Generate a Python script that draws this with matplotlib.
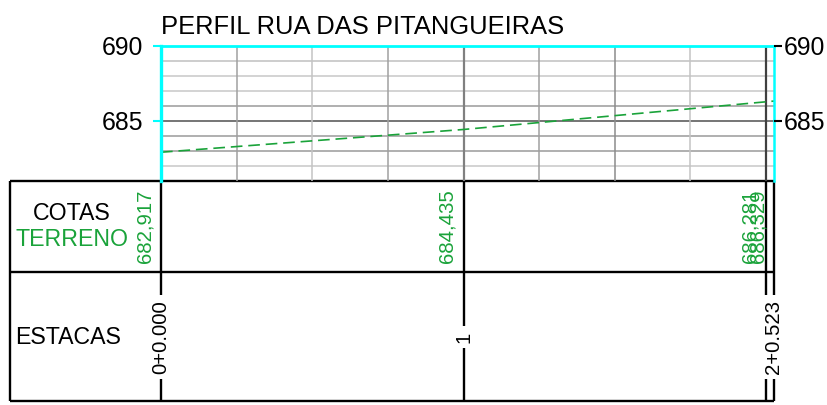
import matplotlib
matplotlib.use("Agg")
import matplotlib.pyplot as plt

plt.rcParams['font.family'] = ['Liberation Sans', 'DejaVu Sans']

# ---------------- data ----------------
title = "PERFIL RUA DAS PITANGUEIRAS"
stations_m = [0.0, 20.0, 40.0, 40.523]
terrain_elev = [682.917, 684.435, 686.281, 686.329]
elev_labels = ["682,917", "684,435", "686,281", "686,329"]
station_label_pos = [0.0, 20.0, 40.523]
station_labels = ["0+0.000", "1", "2+0.523"]
y_ticks = [685, 690]
y_min, y_max = 681, 690
grid_y = [682, 683, 684, 685, 686, 687, 688, 689]
grid_x = [5, 10, 15, 20, 25, 30, 35, 40]
row_titles = ["COTAS", "TERRENO", "ESTACAS"]

# ---------------- styles ----------------
GREEN = '#1aa33a'
CYAN = '#00ffff'
grid_y_colors = {682: '#c8c8c8', 683: '#9a9a9a', 684: '#9a9a9a', 685: '#505050',
                 686: '#9a9a9a', 687: '#c8c8c8', 688: '#c8c8c8', 689: '#c0c0c0'}
grid_x_colors = {5: '#a0a0a0', 10: '#c4c4c4', 15: '#a0a0a0', 20: '#808080',
                 25: '#a0a0a0', 30: '#8c8c8c', 35: '#c4c4c4', 40: '#404040'}

W, H = 827, 405
fig = plt.figure(figsize=(W / 100, H / 100), dpi=100)
fig.patch.set_facecolor('white')

PX0, PX1 = 161, 774
PY_TOP, PY_BOT = 46, 181
k = (PX1 - PX0) / stations_m[-1]


def px2x(px):
    return (px - PX0) / k


# table axes (whole figure, x in metres, y in pixels)
ax_t = fig.add_axes([0, 0, 1, 1])
ax_t.set_xlim(px2x(0), px2x(W))
ax_t.set_ylim(H, 0)
ax_t.axis('off')

# profile axes
ax = fig.add_axes([PX0 / W, 1 - PY_BOT / H, (PX1 - PX0) / W, (PY_BOT - PY_TOP) / H])
ax.set_xlim(0, stations_m[-1])
ax.set_ylim(y_min, y_max)
ax.patch.set_visible(False)
for s in ax.spines.values():
    s.set_visible(False)
ax.set_xticks([])
ax.set_yticks(y_ticks)
ax.tick_params(axis='y', left=True, length=5.8, width=1.5, color=CYAN, pad=7,
               labelsize=17.8)

ax2 = ax.twinx()
ax2.set_ylim(y_min, y_max)
ax2.patch.set_visible(False)
for s in ax2.spines.values():
    s.set_visible(False)
ax2.set_yticks(y_ticks)
ax2.tick_params(axis='y', left=False, right=True, labelleft=False, labelright=True,
                length=5.8, width=1.5, color='black', pad=1.5, labelsize=17.8)

for y in grid_y:
    ax.axhline(y, color=grid_y_colors[y], lw=1.1, zorder=1)
for x in grid_x:
    ax.axvline(x, color=grid_x_colors[x], lw=1.6 if x in (20, 40) else 1.1, zorder=1)

ax.axvline(0, color=CYAN, lw=2.4, zorder=4, clip_on=False)
ax.axvline(stations_m[-1], color=CYAN, lw=1.8, zorder=4, clip_on=False)
ax.axhline(y_max, color=CYAN, lw=2.0, zorder=4, clip_on=False)

ax.plot(stations_m, terrain_elev, color=GREEN, lw=1.2, dashes=(7, 3.5), zorder=3)

# ---------------- table ----------------
x_left = px2x(10)
ax_t.hlines([181, 272, 401], xmin=x_left, xmax=stations_m[-1], color='black', lw=1.7)
ax_t.vlines([x_left], 181, 401, color='black', lw=1.7)
ax_t.vlines(stations_m, 181, 401, color='black', lw=1.7)

for xs, lab in zip(stations_m, elev_labels):
    ax_t.annotate(lab, xy=(xs, 263), xytext=(-5, 0), textcoords='offset points',
                  rotation=90, ha='right', va='bottom', color=GREEN, fontsize=14.7)

for xs, lab in zip(station_label_pos, station_labels):
    ax_t.text(xs, 337, lab, rotation=90, ha='center', va='center', color='black',
              fontsize=14.7, zorder=5,
              bbox=dict(facecolor='white', edgecolor='none', pad=3.5))

ax_t.text(px2x(71.5), 214, row_titles[0], ha='center', va='center', fontsize=16.7,
          color='black')
ax_t.text(px2x(72.5), 240, row_titles[1], ha='center', va='center', fontsize=16.7,
          color=GREEN)
ax_t.text(px2x(68.5), 337, row_titles[2], ha='center', va='center', fontsize=16.7,
          color='black')

fig.text(PX0 / W, 1 - 34 / H, title, ha='left', va='baseline', fontsize=18.4,
         color='black')

fig.savefig('out.png', dpi=100, facecolor='white')
